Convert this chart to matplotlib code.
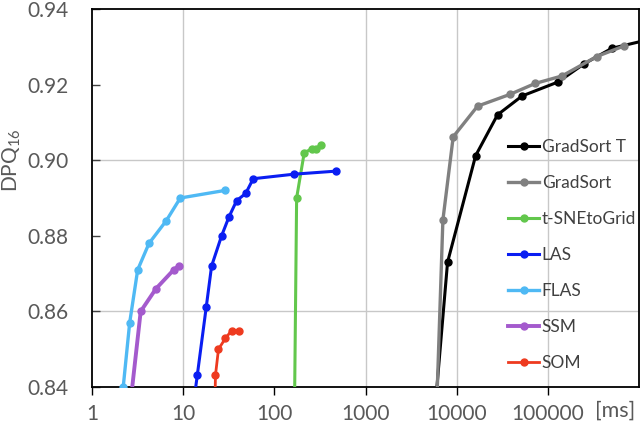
import numpy as np
import matplotlib
matplotlib.use('Agg')
import matplotlib.pyplot as plt

plt.rcParams['font.family'] = ['Lato', 'DejaVu Sans']
plt.rcParams['mathtext.fontset'] = 'custom'
plt.rcParams['mathtext.rm'] = 'Lato'
plt.rcParams['mathtext.it'] = 'Lato:italic'

# runtime [ms] / DPQ16 values
gradsort_t_x = [5830, 7943, 16140, 28050, 52250, 129700, 246400, 503000, 1690000]
gradsort_t_y = [0.835, 0.873, 0.9012, 0.9120, 0.9170, 0.9207, 0.9254, 0.9296, 0.9326]

gradsort_x = [6040, 7063, 9165, 16950, 38300, 72600, 143500, 342000, 681000]
gradsort_y = [0.835, 0.8842, 0.9062, 0.9143, 0.9174, 0.9203, 0.9223, 0.9274, 0.9302]

tsne_x = [166.5, 175.6, 212.8, 258, 286, 322]
tsne_y = [0.835, 0.890, 0.902, 0.903, 0.903, 0.904]

las_x = [12.9, 14.3, 17.9, 20.5, 26.4, 31.8, 38.6, 48.5, 58.7, 164, 470]
las_y = [0.835, 0.8432, 0.8611, 0.872, 0.880, 0.885, 0.8893, 0.8912, 0.8951, 0.8963, 0.8971]

flas_x = [2.20, 2.59, 3.17, 4.22, 6.53, 9.3, 28.7]
flas_y = [0.840, 0.857, 0.871, 0.878, 0.884, 0.890, 0.892]

ssm_x = [2.62, 3.42, 5.03, 7.87, 8.93]
ssm_y = [0.835, 0.860, 0.866, 0.871, 0.872]

som_x = [22.3, 22.6, 24.4, 29.1, 33.9, 41.2]
som_y = [0.835, 0.8431, 0.850, 0.8529, 0.8549, 0.8549]

series = [
  ('GradSort T', gradsort_t_x, gradsort_t_y, '#000000', 2.2),
  ('GradSort', gradsort_x, gradsort_y, '#808080', 2.4),
  ('t-SNEtoGrid', tsne_x, tsne_y, '#62C74C', 2.2),
  ('LAS', las_x, las_y, '#0A1EF2', 2.2),
  ('FLAS', flas_x, flas_y, '#4FB9F4', 2.4),
  ('SSM', ssm_x, ssm_y, '#A45ACD', 2.8),
  ('SOM', som_x, som_y, '#EE3A1F', 2.0),
]

x_ticks = [1, 10, 100, 1000, 10000, 100000]
x_grid = [10, 1000, 10000, 100000]
y_ticks = [0.84, 0.86, 0.88, 0.90, 0.92, 0.94]
y_grid = [0.86, 0.90]

text_col = '#595959'

fig = plt.figure(figsize=(6.4, 4.29), dpi=100)
ax = fig.add_axes([92/640, 42/429, 547/640, 378/429])

for xg in x_grid:
  ax.axvline(xg, color='#C8C8C8', lw=1.0, zorder=0)
for yg in y_grid:
  ax.axhline(yg, color='#C8C8C8', lw=1.0, zorder=0)

for name, xs, ys, col, lw in series:
  ax.plot(xs, ys, color=col, lw=lw, marker='o', markersize=5, label=name, zorder=3)

ax.set_xscale('log')
ax.set_xlim(1, 1e6)
ax.set_ylim(0.84, 0.94)
ax.set_xticks(x_ticks)
ax.set_xticklabels([str(t) for t in x_ticks])
ax.xaxis.set_minor_locator(matplotlib.ticker.NullLocator())
ax.set_yticks(y_ticks)
ax.set_yticklabels(['%.2f' % t for t in y_ticks])

ax.tick_params(axis='x', direction='out', length=6, width=1, color='#000000',
               labelsize=15, labelcolor=text_col, pad=6)
ax.tick_params(axis='y', direction='in', length=6, width=1, color='#404040',
               labelsize=15, labelcolor=text_col, pad=17)
for l in ['bottom', 'top', 'left', 'right']:
  ax.spines[l].set_color('#000000')
  ax.spines[l].set_linewidth(1.3)

fig.text(595/640, 1 - 411/429, '[ms]', fontsize=15.5,
         color=text_col, ha='left', va='center')
fig.text(12/640, 1 - 160/429, 'DPQ$_{16}$', rotation=90, fontsize=15,
         color=text_col, ha='center', va='center')

leg = ax.legend(loc='center left', bbox_to_anchor=((508-92)/547, (387-255)/378),
                frameon=False, fontsize=12.5, handlelength=1.8, handletextpad=0.15,
                labelspacing=1.16, borderpad=0, borderaxespad=0)
for t in leg.get_texts():
  t.set_color('#404040')

fig.savefig('out.png', dpi=100)
